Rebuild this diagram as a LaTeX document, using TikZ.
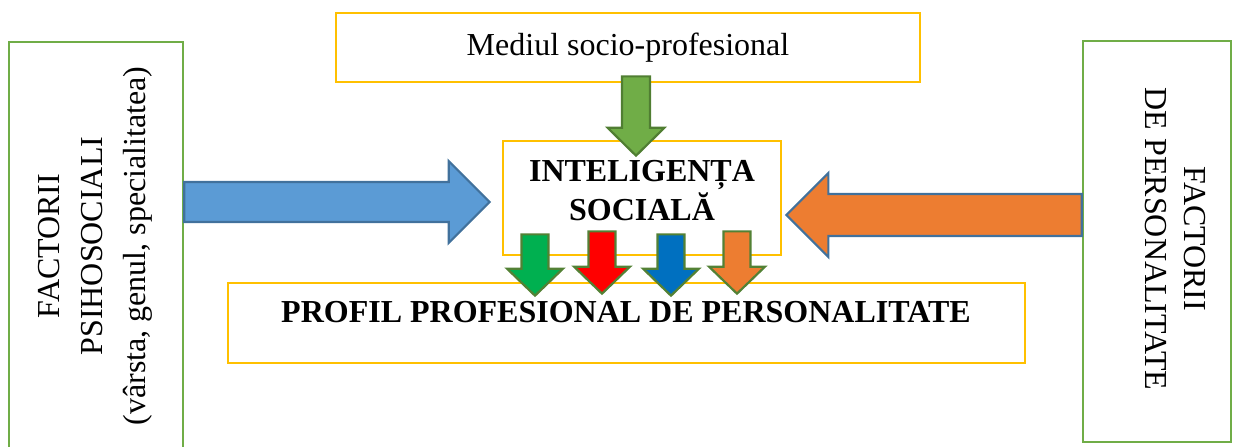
\documentclass[tikz,border=0pt]{standalone}
\usepackage{fontspec}
\setmainfont{Liberation Serif}
\usepackage{xcolor}
\usetikzlibrary{calc,positioning}

\definecolor{boxyellow}{HTML}{FFC000}
\definecolor{boxgreen}{HTML}{70AD47}
\definecolor{arrowblue}{HTML}{5B9BD5}
\definecolor{arroworange}{HTML}{ED7D31}
\definecolor{arrowedge}{HTML}{41719C}
\definecolor{topgreen}{HTML}{70AD47}
\definecolor{topgreenedge}{HTML}{507E32}
\definecolor{sgreen}{HTML}{00B050}
\definecolor{sred}{HTML}{FF0000}
\definecolor{sblue}{HTML}{0070C0}
\definecolor{sorange}{HTML}{ED7D31}
\definecolor{smalledge}{HTML}{538135}

\tikzset{
	ybox/.style={draw=boxyellow, line width=1.35pt, inner sep=0pt},
	gbox/.style={draw=boxgreen, line width=1.2pt, inner sep=0pt},
	txt/.style={align=center, inner sep=0pt, font=\fontsize{16pt}{19.5pt}\selectfont},
	btxt/.style={txt, font=\fontsize{16pt}{19.5pt}\selectfont\bfseries}
}

% block arrow: style, tail, tip, shaft half width, head half width, head length
\newcommand{\blockarrow}[6]{%
	\coordinate (ba-h) at ($(#3)!#6!(#2)$);
	\filldraw[#1] ($(#2)!#4!90:(#3)$) -- ($(ba-h)!#4!90:(#3)$) -- ($(ba-h)!#5!90:(#3)$) -- (#3)
		-- ($(ba-h)!#5!-90:(#3)$) -- ($(ba-h)!#4!-90:(#3)$) -- ($(#2)!#4!-90:(#3)$) -- cycle;
}

\begin{document}
\begin{tikzpicture}[x=0.5pt,y=-0.5pt]
	\useasboundingbox (0,0) rectangle (1233,446);
	\node[ybox, minimum width=292pt, minimum height=34.5pt, txt] (med) at (628,47.5) {Mediul socio-profesional};
	\node[ybox, minimum width=139pt, minimum height=57pt] (soc) at (642,198) {};
	\node[btxt] (soct) at (642,190.5) {INTELIGENȚA\\SOCIALĂ};
	\node[ybox, minimum width=398.5pt, minimum height=40pt] (prof) at (626.5,323) {};
	\node[btxt] (proft) at (626,312) {PROFIL PROFESIONAL DE PERSONALITATE};
	\node[gbox, minimum width=87pt, minimum height=204pt] (psi) at (96,246) {};
	\node[txt, rotate=90, font=\fontsize{16pt}{21.5pt}\selectfont] (psit) at (95,246) {FACTORII\\PSIHOSOCIALI\\(vârsta, genul, specialitatea)};
	\node[gbox, minimum width=74pt, minimum height=200.5pt] (pers) at (1157,241.5) {};
	\node[txt, rotate=-90] (perst) at (1175,239) {FACTORII\\DE PERSONALITATE};

	\coordinate (mt) at ($(med.south)+(8,-7)$);
	\coordinate (mh) at ($(soc.north)+(-6,16)$);
	\blockarrow{fill=topgreen, draw=topgreenedge, line width=1.1pt}{mt}{mh}{7pt}{14.25pt}{14pt}

	\coordinate (bt) at ($(psi.east)+(0,-44)$);
	\coordinate (bh) at ($(soc.west)+(-12,4)$);
	\blockarrow{fill=arrowblue, draw=arrowedge, line width=1.1pt}{bt}{bh}{10pt}{20.5pt}{20.5pt}

	\coordinate (ot) at ($(pers.west)+(0,-26.5)$);
	\coordinate (oh) at ($(soc.east)+(4,17)$);
	\blockarrow{fill=arroworange, draw=arrowedge, line width=1.1pt}{ot}{oh}{10.5pt}{21pt}{21pt}

	\foreach \x/\c/\t/\h in {535/sgreen/-22/14,602/sred/-25/12,671/sblue/-22/14,737/sorange/-25/12}{
		\coordinate (st) at ($(soc.south)+(\x-642,\t)$);
		\coordinate (sh) at ($(prof.north)+(\x-626.5,\h)$);
		\blockarrow{fill=\c, draw=smalledge, line width=1.1pt}{st}{sh}{6.75pt}{14pt}{13.5pt}
	}
\end{tikzpicture}
\end{document}
